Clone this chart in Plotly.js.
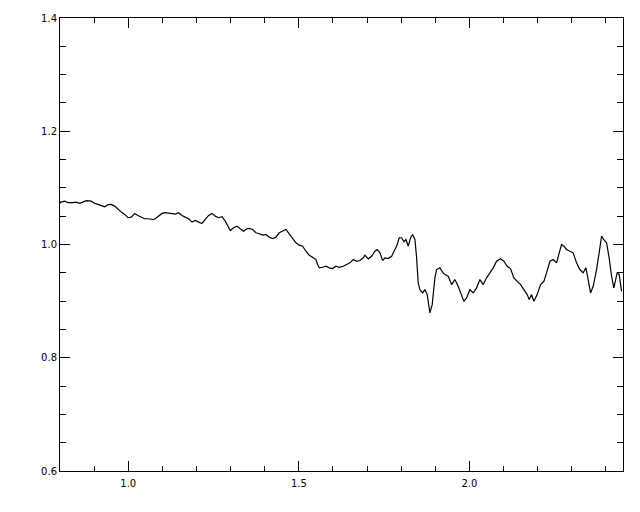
<!DOCTYPE html>
<html>
<head>
<meta charset="utf-8">
<script src="https://cdn.plot.ly/plotly-3.0.1.min.js"></script>
<style>html,body{margin:0;padding:0;background:#fff;}#chart{width:640px;height:512px;}</style>
</head>
<body>
<div id="chart"></div>
<script>
const wavelength = [0.800,0.802,0.8138,0.8234,0.8381,0.8469,0.8577,0.8674,0.8771,0.8917,0.9017,0.9113,0.9210,0.9310,0.9406,0.9503,0.9603,0.9699,0.9796,0.9896,0.9992,1.0089,1.0189,1.0285,1.0382,1.0482,1.0578,1.0725,1.0792,1.0892,1.0989,1.1085,1.1185,1.1282,1.1378,1.1478,1.1575,1.1671,1.1771,1.1868,1.1964,1.2064,1.2161,1.2257,1.2357,1.2454,1.2550,1.2650,1.2747,1.2843,1.2943,1.2990,1.3089,1.3186,1.3283,1.3382,1.3479,1.3547,1.3646,1.3743,1.3840,1.3939,1.4036,1.4133,1.4232,1.4329,1.4425,1.4525,1.4622,1.4718,1.4818,1.4915,1.5011,1.5111,1.5208,1.5304,1.5404,1.5501,1.5550,1.5597,1.5697,1.5794,1.5890,1.5990,1.6087,1.6183,1.6301,1.6400,1.6497,1.6594,1.6693,1.6790,1.6887,1.6936,1.7033,1.7133,1.7229,1.7297,1.7376,1.7455,1.7522,1.7619,1.7719,1.7815,1.7865,1.7942,1.8012,1.8079,1.8138,1.8205,1.8276,1.8334,1.8402,1.8451,1.8498,1.8548,1.8627,1.8694,1.8762,1.8841,1.8908,1.8987,1.9037,1.9134,1.9213,1.9280,1.9377,1.9477,1.9573,1.9670,1.9769,1.9837,1.9916,2.0013,2.0110,2.0209,2.0306,2.0403,2.0502,2.0599,2.0696,2.0795,2.0913,2.1009,2.1106,2.1206,2.1302,2.1399,2.1499,2.1595,2.1692,2.1751,2.1821,2.1888,2.1985,2.2085,2.2181,2.2260,2.2357,2.2454,2.2553,2.2630,2.2700,2.2767,2.2846,2.2943,2.3040,2.3139,2.3236,2.3333,2.3412,2.3479,2.3549,2.3626,2.3725,2.3801,2.3872,2.3939,2.4018,2.4094,2.4165,2.4232,2.4291,2.4329,2.4388,2.4429,2.4458];
const flux = [1.0726,1.0749,1.0766,1.0738,1.0738,1.0749,1.0726,1.0749,1.0773,1.0766,1.0726,1.0708,1.0690,1.0667,1.0703,1.0708,1.0678,1.0619,1.0572,1.0531,1.0473,1.0483,1.0549,1.0513,1.0490,1.0455,1.0455,1.0442,1.0455,1.0501,1.0549,1.0561,1.0549,1.0543,1.0536,1.0561,1.0513,1.0483,1.0455,1.0395,1.0425,1.0395,1.0372,1.0442,1.0513,1.0549,1.0501,1.0473,1.0490,1.0412,1.0296,1.0248,1.0296,1.0324,1.0278,1.0235,1.0278,1.0283,1.0265,1.0207,1.0189,1.0165,1.0177,1.0129,1.0106,1.0129,1.0207,1.0235,1.0265,1.0189,1.0106,1.0030,0.9988,0.9970,0.9881,0.9811,0.9775,0.9735,0.9646,0.9588,0.9598,0.9616,0.9588,0.9575,0.9616,0.9598,0.9616,0.9646,0.9676,0.9735,0.9704,0.9717,0.9765,0.9811,0.9747,0.9793,0.9881,0.9912,0.9853,0.9717,0.9765,0.9752,0.9793,0.9912,0.9970,1.0119,1.0119,1.0048,1.0088,0.9970,1.0119,1.0177,1.0088,0.9765,0.9322,0.9204,0.9145,0.9204,0.9115,0.8791,0.8938,0.9411,0.9558,0.9588,0.9510,0.9469,0.9439,0.9292,0.9381,0.9262,0.9115,0.8996,0.9056,0.9204,0.9145,0.9234,0.9381,0.9292,0.9411,0.9499,0.9588,0.9704,0.9747,0.9704,0.9616,0.9570,0.9411,0.9350,0.9292,0.9204,0.9115,0.9027,0.9115,0.8996,0.9115,0.9292,0.9350,0.9499,0.9704,0.9735,0.9676,0.9853,1.0000,0.9970,0.9912,0.9881,0.9853,0.9676,0.9558,0.9499,0.9588,0.9381,0.9145,0.9262,0.9558,0.9853,1.0147,1.0088,1.0030,0.9765,0.9439,0.9234,0.9381,0.9499,0.9469,0.9292,0.9173];
const xTickVals = [1.0, 1.5, 2.0];
const xTickText = ["1.0", "1.5", "2.0"];
const yTickVals = [0.6, 0.8, 1.0, 1.2, 1.4];
const yTickText = ["0.6", "0.8", "1.0", "1.2", "1.4"];

const axisCommon = {
  showline: true, linecolor: '#000', linewidth: 1, mirror: 'allticks',
  ticks: 'inside', tickcolor: '#000', tickwidth: 1, ticklen: 10,
  showgrid: false, zeroline: false,
  tickfont: {family: 'DejaVu Sans, sans-serif', size: 10, color: '#000'}
};
const layout = {
  width: 640, height: 512,
  margin: {l: 60, r: 17, t: 18, b: 41, pad: 0},
  paper_bgcolor: '#fff', plot_bgcolor: '#fff',
  showlegend: false,
  xaxis: Object.assign({}, axisCommon, {
    range: [0.8, 2.45], tickmode: 'array', tickvals: xTickVals, ticktext: xTickText,
    ticklabelstandoff: 3,
    minor: {dtick: 0.1, tick0: 0.8, ticks: 'inside', ticklen: 5, tickcolor: '#000', tickwidth: 1, showgrid: false}
  }),
  yaxis: Object.assign({}, axisCommon, {
    range: [0.6, 1.4], tickmode: 'array', tickvals: yTickVals, ticktext: yTickText,
    minor: {dtick: 0.05, tick0: 0.6, ticks: 'inside', ticklen: 6, tickcolor: '#000', tickwidth: 1, showgrid: false}
  })
};
Plotly.newPlot('chart', [{
  x: wavelength, y: flux, type: 'scatter', mode: 'lines',
  line: {color: '#000', width: 1.2}
}], layout, {staticPlot: true, displayModeBar: false});
</script>
</body>
</html>
